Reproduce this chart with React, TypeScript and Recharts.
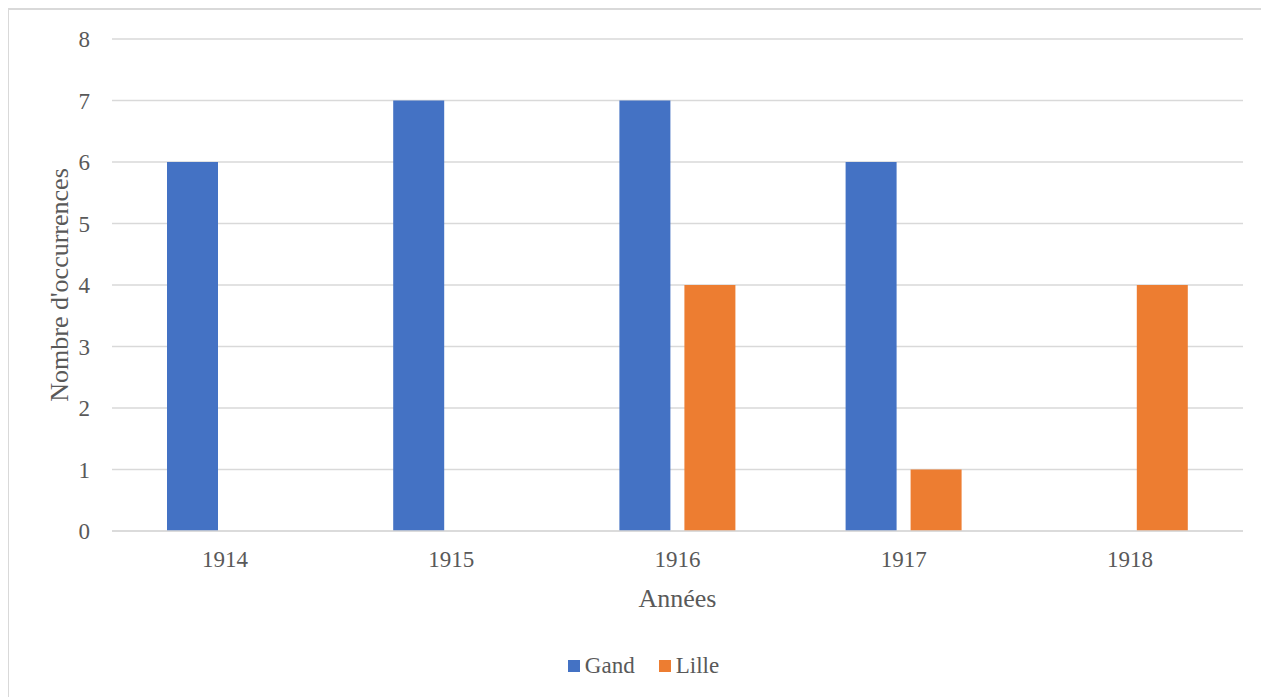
import React from "react";
import { Bar, BarChart, CartesianGrid, Legend, XAxis, YAxis } from "recharts";

const years = ["1914", "1915", "1916", "1917", "1918"];
const gand = [6, 7, 7, 6, 0];
const lille = [0, 0, 4, 1, 4];
const yTicks = [0, 1, 2, 3, 4, 5, 6, 7, 8];

const FONT = "Liberation Serif, DejaVu Serif, Times New Roman, serif";
const TEXT = "#595959";
const GRID = "#d9d9d9";

const series = [
  { key: "Gand", color: "#4472C4" },
  { key: "Lille", color: "#ED7D31" },
];

function LegendBox() {
  return (
    <div
      style={{
        display: "flex",
        justifyContent: "center",
        alignItems: "center",
        paddingLeft: 9,
        fontFamily: FONT,
        fontSize: 23,
        color: TEXT,
      }}
    >
      {series.map((s, i) => (
        <span
          key={s.key}
          style={{ display: "flex", alignItems: "center", marginLeft: i ? 24 : 0 }}
        >
          <span
            style={{ width: 12, height: 12, background: s.color, marginRight: 5, display: "inline-block" }}
          />
          {s.key}
        </span>
      ))}
    </div>
  );
}

export default function App() {
  const data = years.map((y, i) => ({ year: y, Gand: gand[i], Lille: lille[i] }));
  return (
    <div
      style={{
        width: 1262,
        height: 689,
        marginLeft: -1,
        borderTop: `2px solid ${GRID}`,
        borderLeft: `2px solid ${GRID}`,
        boxSizing: "border-box",
        background: "#fff",
        fontFamily: FONT,
      }}
    >
      <BarChart
        width={1260}
        height={687}
        data={data}
        margin={{ top: 29, right: 26, bottom: 0, left: 0 }}
        barCategoryGap={55}
        barGap={14}
        style={{ fontFamily: FONT }}
      >
        <CartesianGrid vertical={false} stroke={GRID} strokeWidth={1.5} />
        <XAxis
          dataKey="year"
          height={166}
          tickLine={false}
          axisLine={{ stroke: GRID, strokeWidth: 1.5 }}
          tick={{ fill: TEXT, fontSize: 23, fontFamily: FONT }}
          tickMargin={14}
          label={{
            value: "Années",
            position: "insideTop",
            offset: 58,
            fill: TEXT,
            fontSize: 26,
            fontFamily: FONT,
          }}
        />
        <YAxis
          width={103}
          domain={[0, 8]}
          ticks={yTicks}
          tickLine={false}
          axisLine={false}
          tickMargin={16}
          tick={{ fill: TEXT, fontSize: 23, fontFamily: FONT }}
          label={{
            value: "Nombre d'occurrences",
            angle: -90,
            position: "insideLeft",
            offset: 50,
            fill: TEXT,
            fontSize: 26,
            fontFamily: FONT,
            style: { textAnchor: "middle" },
          }}
        />
        <Legend
          verticalAlign="middle"
          align="center"
          layout="horizontal"
          content={<LegendBox />}
          wrapperStyle={{ top: 643, left: 0, width: 1260 }}
        />
        {series.map((s) => (
          <Bar key={s.key} dataKey={s.key} fill={s.color} isAnimationActive={false} />
        ))}
      </BarChart>
    </div>
  );
}
